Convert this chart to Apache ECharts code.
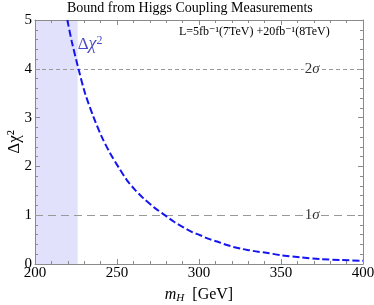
<!DOCTYPE html>
<html><head><meta charset="utf-8">
<script src="https://cdn.jsdelivr.net/npm/echarts@6/dist/echarts.min.js"></script>
<style>html,body{margin:0;padding:0;background:#fff}#c{width:374px;height:305px}</style>
</head><body><div id="c"></div>
<script>
var massGeV = [219.7, 222.5, 226.5, 230.5, 235.6, 240.5, 245.8, 251, 256, 261, 266, 273, 280, 285, 290.5, 295.5, 300.7, 305.5, 311, 316, 321, 326, 331, 336, 341, 350, 362, 374, 387, 400];
var deltaChi2 = [5.0, 4.55, 4.0, 3.5, 3.02, 2.62, 2.27, 1.98, 1.72, 1.52, 1.35, 1.15, 0.98, 0.86, 0.75, 0.66, 0.59, 0.52, 0.46, 0.40, 0.35, 0.31, 0.28, 0.25, 0.23, 0.18, 0.135, 0.10, 0.08, 0.065];
var excludedBand = [200, 226];
var sigmaLevels = [4, 1];
var sigmaLabels = ['2', '1'];
var xTicks = [200, 250, 300, 350, 400];
var yTicks = [0, 1, 2, 3, 4, 5];

var curve = massGeV.map(function (m, i) { return [m, deltaChi2[i]]; });
var serif = '"Liberation Serif", "DejaVu Serif", serif';
var frame = '#8a8a8a';

var chart = echarts.init(document.getElementById('c'), null, {renderer: 'canvas'});
function axisCommon(showLabel) {
  return {
    z: 4,
    axisLine: {show: true, onZero: false, lineStyle: {color: frame, width: 1}},
    axisTick: {show: true, inside: true, length: 5, lineStyle: {color: frame, width: 1}},
    minorTick: {show: true, splitNumber: 5, length: 3, lineStyle: {color: frame, width: 1}},
    splitLine: {show: false},
    axisLabel: {show: showLabel, color: '#000', fontFamily: serif, fontSize: 15}
  };
}
var xb = Object.assign(axisCommon(true), {type: 'value', min: xTicks[0], max: xTicks[xTicks.length - 1], interval: 50, position: 'bottom',
  name: '{i|m}{s|H}  [GeV]', nameLocation: 'middle', nameGap: 22, nameMoveOverlap: false,
  nameTextStyle: {fontFamily: serif, fontSize: 16, color: '#000', rich: {
    i: {fontFamily: serif, fontStyle: 'italic', fontSize: 16},
    s: {fontFamily: serif, fontStyle: 'italic', fontSize: 11, verticalAlign: 'bottom', padding: [7, 0, 0, 0]}}}});
xb.axisLabel.margin = 2;
var xt = Object.assign(axisCommon(false), {type: 'value', min: xTicks[0], max: xTicks[xTicks.length - 1], interval: 50, position: 'top'});
var yl = Object.assign(axisCommon(true), {type: 'value', min: yTicks[0], max: yTicks[yTicks.length - 1], interval: 1, position: 'left',
  name: 'Δχ²', nameLocation: 'middle', nameGap: 12, nameRotate: 90, nameMoveOverlap: false,
  nameTextStyle: {fontFamily: serif, fontSize: 17, color: '#000'}});
yl.axisLabel.margin = 3;
var yr = Object.assign(axisCommon(false), {type: 'value', min: yTicks[0], max: yTicks[yTicks.length - 1], interval: 1, position: 'right'});

chart.setOption({
  animation: false,
  backgroundColor: '#fff',
  grid: {left: 35, right: 11, top: 20, bottom: 41, containLabel: false, outerBoundsMode: 'none'},
  xAxis: [xb, xt],
  yAxis: [yl, yr],
  graphic: [
    {type: 'text', left: 67, top: 1, style: {text: 'Bound from Higgs Coupling Measurements', font: '14px ' + serif, fill: '#000'}},
    {type: 'text', left: 179, top: 26, style: {text: 'L=5fb⁻¹(7TeV) +20fb⁻¹(8TeV)', font: '12px ' + serif, fill: '#000'}}
  ],
  series: [
    {type: 'line', xAxisIndex: 0, yAxisIndex: 0, data: [], silent: true, z: 1,
      markArea: {silent: true, itemStyle: {color: '#e1e1fb'}, data: [[{xAxis: excludedBand[0], yAxis: 0}, {xAxis: excludedBand[1], yAxis: 5}]]},
      markLine: {silent: true, symbol: 'none', label: {show: false}, data: [
        {yAxis: sigmaLevels[0], lineStyle: {color: '#999', type: [4, 3], width: 1}},
        {yAxis: sigmaLevels[1], lineStyle: {color: '#999', type: [8, 5], width: 1}}
      ]}},
    {type: 'line', xAxisIndex: 0, yAxisIndex: 0, data: curve, smooth: 0.3, showSymbol: false, clip: true,
      lineStyle: {color: '#1515f0', width: 2, type: [7, 3]}, z: 5},
    {type: 'scatter', xAxisIndex: 0, yAxisIndex: 0, symbolSize: 0, z: 6,
      data: [[369, sigmaLevels[0], sigmaLabels[0]], [369, sigmaLevels[1], sigmaLabels[1]]],
      label: {show: true, position: 'inside', formatter: function (p) { return p.value[2] + '{g|σ}'; },
        backgroundColor: '#fff', padding: [0, 1], fontFamily: serif, fontSize: 15, color: '#000',
        rich: {g: {fontFamily: serif, fontStyle: 'italic', fontSize: 15, color: '#000'}}}},
    {type: 'scatter', xAxisIndex: 0, yAxisIndex: 0, symbolSize: 0, z: 6,
      data: [[233.6, 4.5]],
      label: {show: true, position: 'inside', formatter: 'Δ{i|χ}{s|2}',
        color: '#1a1ab8', fontFamily: serif, fontSize: 17,
        rich: {i: {fontFamily: serif, fontStyle: 'italic', fontSize: 18, color: '#1a1ab8'},
               s: {fontFamily: serif, fontSize: 12, color: '#1a1ab8', verticalAlign: 'top', padding: [0, 0, 8, 0]}}}}
  ]
});
</script></body></html>
